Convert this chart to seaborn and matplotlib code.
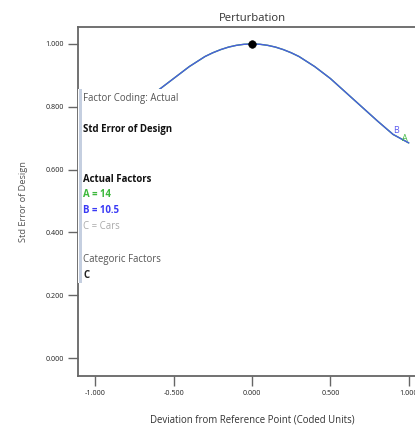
import matplotlib
matplotlib.use("Agg")
import matplotlib.pyplot as plt
import seaborn as sns
import pandas as pd
from matplotlib.patches import Rectangle

# ---- data ----
deviation = [-1.0, -0.9, -0.8, -0.7, -0.6, -0.5, -0.4, -0.3, -0.25, -0.2, -0.15, -0.1, -0.05, 0.0,
             0.05, 0.1, 0.15, 0.2, 0.25, 0.3, 0.4, 0.5, 0.6, 0.7, 0.8, 0.9, 1.0]
std_err_A = [0.69, 0.72, 0.77, 0.815, 0.852, 0.89, 0.928, 0.96, 0.972, 0.982, 0.990, 0.9956, 0.999, 1.0,
             0.999, 0.9956, 0.990, 0.982, 0.972, 0.960, 0.928, 0.89, 0.845, 0.80, 0.755, 0.712, 0.685]
std_err_B = [0.69, 0.72, 0.77, 0.815, 0.852, 0.89, 0.928, 0.96, 0.972, 0.982, 0.990, 0.9956, 0.999, 1.0,
             0.999, 0.9956, 0.990, 0.982, 0.972, 0.960, 0.928, 0.89, 0.845, 0.80, 0.755, 0.712, 0.685]
ref_x = [0.0]
ref_y = [1.0]
x_ticks = [-1.0, -0.5, 0.0, 0.5, 1.0]
y_ticks = [0.0, 0.2, 0.4, 0.6, 0.8, 1.0]
info_lines = ["Factor Coding: Actual", "Std Error of Design", "Actual Factors",
              "A = 14", "B = 10.5", "C = Cars", "Categoric Factors", "C"]

sns.set_style("white")
plt.rcParams['font.family'] = ['Open Sans', 'DejaVu Sans']

fig = plt.figure(figsize=(4.15, 4.25), dpi=100)
ax = fig.add_axes([78/415, 49/425, 348/415, 349/425])

dfA = pd.DataFrame({"x": deviation, "y": std_err_A})
dfB = pd.DataFrame({"x": deviation, "y": std_err_B})
sns.lineplot(data=dfA, x="x", y="y", ax=ax, color="#3cb83c", linewidth=1.0, zorder=2)
sns.lineplot(data=dfB, x="x", y="y", ax=ax, color="#4a5de0", linewidth=1.0, zorder=3)
sns.scatterplot(x=ref_x, y=ref_y, ax=ax, color="black", s=30, zorder=4, edgecolor="black")

ax.text(0.917, 0.723, "B", color="#5a5af0", fontsize=6.5, ha="center", va="center", zorder=5)
ax.text(0.975, 0.700, "A", color="#3cb83c", fontsize=6.5, ha="center", va="center", zorder=5)

ax.set_xlim(-1.11, 1.11)
ax.set_ylim(-0.057, 1.054)
ax.set_xticks(x_ticks)
ax.set_xticklabels([f"{v:.3f}" for v in x_ticks])
ax.set_yticks(y_ticks)
ax.set_yticklabels([f"{v:.3f}" for v in y_ticks])
ax.tick_params(axis="both", direction="out", length=7, width=1, color="#666666",
               labelsize=5.2, labelcolor="#222222", pad=3, left=True, bottom=True)

for s in ["left", "bottom", "top"]:
    ax.spines[s].set_color("#666666")
    ax.spines[s].set_linewidth(1.3)
ax.spines["right"].set_visible(False)

ax.set_title("Perturbation", fontsize=8.1, color="#333333", pad=4)
ax.set_xlabel("Deviation from Reference Point (Coded Units)", fontsize=6.9,
              color="#333333", labelpad=13)
ax.set_ylabel("Std Error of Design", fontsize=6.7, color="#555555", labelpad=13)

# info box covering left part of the curve
ax.add_patch(Rectangle((0.0, 0.266), 0.31, 0.556, transform=ax.transAxes,
                       facecolor="white", edgecolor="none", zorder=6, clip_on=False))
ax.add_patch(Rectangle((0.003, 0.266), 0.009, 0.556, transform=ax.transAxes,
                       facecolor="#c5cfe0", edgecolor="none", zorder=7, clip_on=False))

ys = [0.794, 0.705, 0.564, 0.519, 0.473, 0.427, 0.335, 0.287]
colors = ["#555555", "#111111", "#111111", "#3cb83c", "#3a3af5", "#aaaaaa", "#555555", "#222222"]
weights = ["normal", "bold", "bold", "bold", "bold", "normal", "normal", "bold"]
for txt, yy, c, w in zip(info_lines, ys, colors, weights):
    ax.text(0.015, yy, txt, transform=ax.transAxes, fontsize=6.9, color=c,
            fontweight=w, ha="left", va="center", zorder=8)

fig.savefig("out.png", dpi=100)
